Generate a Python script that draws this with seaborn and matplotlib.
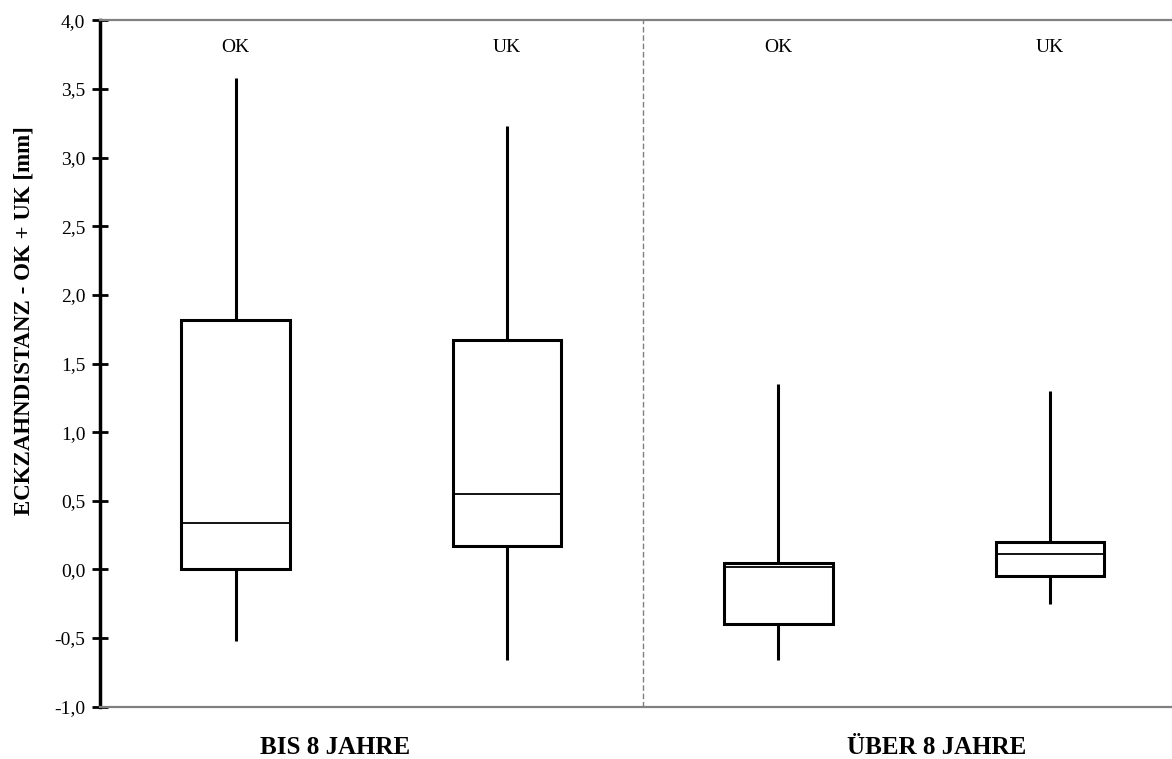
import numpy as np
import pandas as pd
import matplotlib
matplotlib.use("Agg")
import matplotlib.pyplot as plt
import matplotlib.transforms as mtransforms
import seaborn as sns

# ---- data (five-number summaries) ----
groups = ["BIS 8 JAHRE", "ÜBER 8 JAHRE"]
jaws = ["OK", "UK", "OK", "UK"]
box_ids = ["BIS 8 JAHRE OK", "BIS 8 JAHRE UK", "ÜBER 8 JAHRE OK", "ÜBER 8 JAHRE UK"]
whisker_low = [-0.52, -0.66, -0.66, -0.25]
q1 = [0.00, 0.17, -0.40, -0.05]
median = [0.34, 0.55, 0.02, 0.11]
q3 = [1.82, 1.67, 0.05, 0.20]
whisker_high = [3.58, 3.23, 1.35, 1.30]
y_ticks = [-1.0, -0.5, 0.0, 0.5, 1.0, 1.5, 2.0, 2.5, 3.0, 3.5, 4.0]
y_label = "ECKZAHNDISTANZ - OK + UK [mm]"

rows = []
for i, b in enumerate(box_ids):
    for v in (whisker_low[i], q1[i], median[i], q3[i], whisker_high[i]):
        rows.append({"box": b, "value": v})
df = pd.DataFrame(rows)

sns.set_theme(style="white")
plt.rcParams["font.family"] = ["Liberation Serif", "DejaVu Serif"]
plt.rcParams["text.color"] = "black"
plt.rcParams["axes.labelcolor"] = "black"
plt.rcParams["ytick.color"] = "black"
plt.rcParams["xtick.color"] = "black"

fig = plt.figure(figsize=(11.72, 7.59), dpi=100)
ax = fig.add_axes([100 / 1172, (759 - 706.7) / 759, 1 - 100 / 1172, (706.7 - 20.3) / 759])

sns.boxplot(
    data=df, x="box", y="value", order=box_ids, ax=ax,
    whis=(0, 100), width=0.4, color="white", linecolor="black",
    linewidth=2.2, showcaps=False, showfliers=False,
    medianprops=dict(linewidth=1.3, color="black"),
)

ax.set_xlim(-0.5, 3.45)
ax.set_ylim(-1.0, 4.0)
ax.set_yticks(y_ticks)
ax.set_yticklabels([f"{v:.1f}".replace(".", ",") for v in y_ticks], fontsize=14, color="black")
ax.set_xticks([])
ax.set_xlabel("")
ax.tick_params(axis="y", direction="inout", length=11, width=2, color="black", pad=5, left=True)

for side in ("top", "bottom"):
    ax.spines[side].set_color("#808080")
    ax.spines[side].set_linewidth(1.6)
ax.spines["left"].set_color("black")
ax.spines["left"].set_linewidth(2.5)
ax.spines["right"].set_visible(False)

ax.axvline(1.5, color="#808080", linestyle=(0, (4, 2)), linewidth=1.0)

ax.set_ylabel(y_label, fontsize=16.5, fontweight="bold", color="black")
ax.yaxis.set_label_coords(-0.061, 0.563)

trans = mtransforms.blended_transform_factory(ax.transData, ax.transAxes)
for i, j in enumerate(jaws):
    ax.text(i, 0.961, j, transform=trans, ha="center", va="center", fontsize=14, color="black")

group_x = [0.366, 2.584]
for gx, g in zip(group_x, groups):
    ax.text(gx, -0.059, g, transform=trans, ha="center", va="center",
            fontsize=18, fontweight="bold", color="black", clip_on=False)

fig.savefig("out.png", dpi=100)
